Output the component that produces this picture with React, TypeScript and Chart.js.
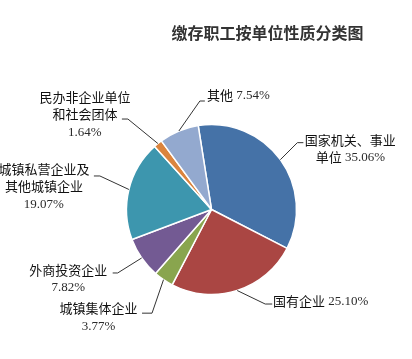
import React, { useEffect, useRef } from "react";
import { Chart, registerables } from "chart.js";

Chart.register(...registerables);

// ---- data ----
const titleText = "缴存职工按单位性质分类图";
const categories = [
  "国家机关、事业单位",
  "国有企业",
  "城镇集体企业",
  "外商投资企业",
  "城镇私营企业及其他城镇企业",
  "民办非企业单位和社会团体",
  "其他",
];
const values = [35.06, 25.1, 3.77, 7.82, 19.07, 1.64, 7.54];
const labelLines = [
  ["国家机关、事业", "单位"],
  ["国有企业"],
  ["城镇集体企业"],
  ["外商投资企业"],
  ["城镇私营企业及", "其他城镇企业"],
  ["民办非企业单位", "和社会团体"],
  ["其他"],
];
const percentInline = [true, true, false, false, false, false, true];
const colors = ["#4572A7", "#AA4643", "#89A54E", "#735A93", "#3D96AE", "#DB843D", "#93A9CF"];

// ---- label layout (offsets relative to each arc's outer edge midpoint) ----
const labelPlacement = [
  { ex: 17, ey: -17, h: 6, tx: 53, ty: -3 },
  { ex: 28, ey: 13.5, h: 7, tx: 55.5, ty: -3.3 },
  { ex: -11.5, ey: 33.5, h: 10, tx: -53.5, ty: -5 },
  { ex: -24, ey: 15, h: 5, tx: -49.5, ty: -3 },
  { ex: -29, ey: -13.5, h: 6, tx: -56, ty: -7 },
  { ex: -30, ey: -24.5, h: 6, tx: -43, ty: -22 },
  { ex: 21, ey: -30, h: 5, tx: 38.5, ty: -6 },
];

const CJK_FONT = '13px "Noto Sans CJK SC", "Noto Sans", sans-serif';
const NUM_FONT = '13px "Liberation Serif", "DejaVu Serif", serif';

function splitRuns(text: string) {
  const runs: { t: string; ascii: boolean }[] = [];
  const re = /[\x00-\x7F]+|[^\x00-\x7F]+/g;
  let m;
  while ((m = re.exec(text))) {
    runs.push({ t: m[0], ascii: /^[\x00-\x7F]+$/.test(m[0]) });
  }
  return runs;
}

function measureMixed(ctx: CanvasRenderingContext2D, text: string) {
  let w = 0;
  for (const r of splitRuns(text)) {
    ctx.font = r.ascii ? NUM_FONT : CJK_FONT;
    w += ctx.measureText(r.t).width;
  }
  return w;
}

function drawMixed(ctx: CanvasRenderingContext2D, text: string, cx: number, cy: number) {
  const total = measureMixed(ctx, text);
  let x = cx - total / 2;
  ctx.textAlign = "left";
  ctx.textBaseline = "middle";
  for (const r of splitRuns(text)) {
    ctx.font = r.ascii ? NUM_FONT : CJK_FONT;
    ctx.fillStyle = r.ascii ? "#2a2a2a" : "#111111";
    ctx.fillText(r.t, x, cy + (r.ascii ? 0.5 : 0));
    x += ctx.measureText(r.t).width;
  }
}

const labelPlugin = {
  id: "pieLabels",
  afterDatasetsDraw(chart: any) {
    const ctx: CanvasRenderingContext2D = chart.ctx;
    const meta = chart.getDatasetMeta(0);
    ctx.save();
    meta.data.forEach((arc: any, i: number) => {
      const p = labelPlacement[i];
      const { x, y, startAngle, endAngle, outerRadius } = arc.getProps(
        ["x", "y", "startAngle", "endAngle", "outerRadius"],
        true
      );
      const mid = (startAngle + endAngle) / 2;
      const px = x + Math.cos(mid) * outerRadius;
      const py = y + Math.sin(mid) * outerRadius;
      const exx = px + p.ex;
      const eyy = py + p.ey;
      const side = p.tx >= 0 ? 1 : -1;
      ctx.beginPath();
      ctx.strokeStyle = "#333333";
      ctx.lineWidth = 1;
      ctx.moveTo(px, py);
      ctx.lineTo(exx, eyy);
      ctx.lineTo(exx + side * p.h, eyy);
      ctx.stroke();

      const pct = values[i].toFixed(2) + "%";
      const lines = labelLines[i].slice();
      if (percentInline[i]) lines[lines.length - 1] = lines[lines.length - 1] + " " + pct;
      else lines.push(pct);
      const cx = exx + p.tx;
      lines.forEach((ln, k) => {
        drawMixed(ctx, ln, cx, eyy + p.ty + k * 17.5);
      });
    });
    ctx.restore();
  },
};

const titlePlugin = {
  id: "customTitle",
  afterDraw(chart: any) {
    const ctx: CanvasRenderingContext2D = chart.ctx;
    ctx.save();
    ctx.font = 'bold 16px "Noto Sans CJK SC", sans-serif';
    ctx.fillStyle = "#333333";
    ctx.textAlign = "center";
    ctx.textBaseline = "middle";
    ctx.fillText(titleText, 267.5, 33);
    ctx.restore();
  },
};

export default function App() {
  const ref = useRef<HTMLCanvasElement | null>(null);
  useEffect(() => {
    if (!ref.current) return;
    const chart = new Chart(ref.current, {
      type: "pie",
      data: {
        labels: categories,
        datasets: [
          {
            data: values,
            backgroundColor: colors,
            borderColor: "#ffffff",
            borderWidth: 1.5,
          },
        ],
      },
      options: {
        animation: false,
        responsive: false,
        rotation: -9,
        radius: 85,
        layout: { padding: { left: 60, right: 49, top: 124.5, bottom: 64.5 } },
        plugins: {
          legend: { display: false },
          tooltip: { enabled: false },
          title: { display: false },
        },
      },
      plugins: [labelPlugin, titlePlugin],
    });
    return () => chart.destroy();
  }, []);
  return (
    <div style={{ position: "fixed", left: 0, top: 0, width: 412, height: 359, background: "#fff" }}>
      <canvas ref={ref} width={412} height={359} style={{ display: "block" }} />
    </div>
  );
}
